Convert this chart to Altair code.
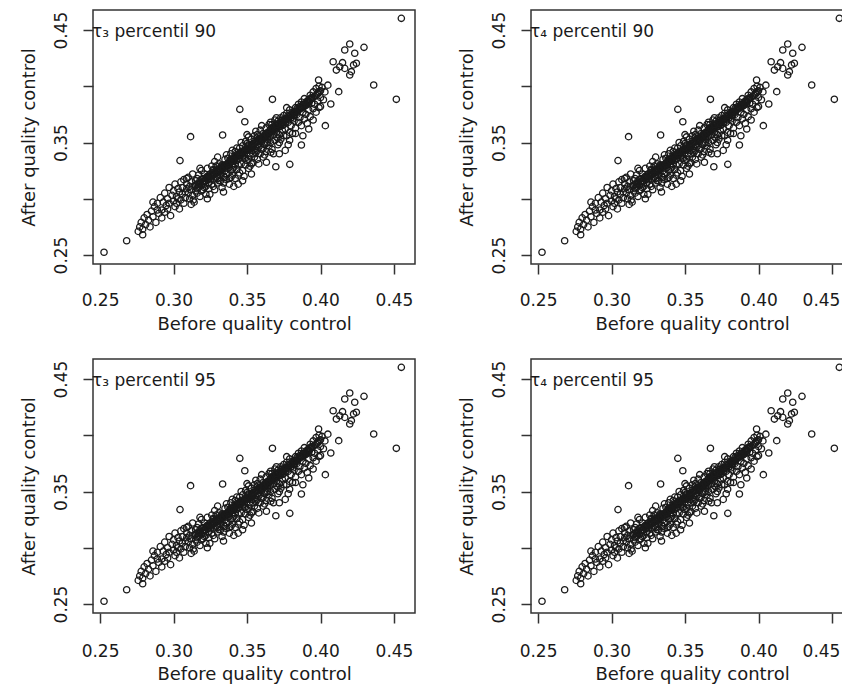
import altair as alt
import pandas as pd

# ---- data (same cloud in all four panels) ----
band_before = (
    [0.276, 0.277, 0.278, 0.279, 0.280, 0.281, 0.282, 0.283, 0.284, 0.285, 0.279]
    + [0.286, 0.287, 0.288, 0.289, 0.290, 0.291, 0.292, 0.292, 0.293, 0.294, 0.294, 0.295, 0.289, 0.286]
    + [0.296, 0.296, 0.297, 0.297, 0.298, 0.299, 0.300, 0.300, 0.301, 0.301, 0.302, 0.302, 0.303, 0.303, 0.304, 0.304, 0.305, 0.305]
    + [0.306, 0.306, 0.307, 0.307, 0.308, 0.308, 0.309, 0.309, 0.310, 0.310, 0.311, 0.311, 0.312, 0.312, 0.313, 0.313, 0.314, 0.314, 0.315, 0.315, 0.309, 0.312]
    + [0.316, 0.316, 0.317, 0.317, 0.318, 0.318, 0.319, 0.319, 0.320, 0.320, 0.321, 0.321, 0.322, 0.322, 0.323, 0.323, 0.324, 0.324, 0.325, 0.325,
       0.318, 0.320, 0.322, 0.324, 0.316, 0.323, 0.319, 0.321]
    + [0.326, 0.326, 0.327, 0.327, 0.328, 0.328, 0.329, 0.329, 0.330, 0.330, 0.331, 0.331, 0.332, 0.332, 0.333, 0.333, 0.334, 0.334, 0.335, 0.335,
       0.326, 0.328, 0.330, 0.332, 0.334, 0.327, 0.329, 0.331, 0.333, 0.335, 0.330, 0.334]
    + [0.336, 0.336, 0.337, 0.337, 0.338, 0.338, 0.339, 0.339, 0.340, 0.340, 0.341, 0.341, 0.342, 0.342, 0.343, 0.343, 0.344, 0.344, 0.345, 0.345,
       0.336, 0.338, 0.340, 0.342, 0.344, 0.337, 0.339, 0.341, 0.343, 0.345, 0.340, 0.342, 0.338, 0.344, 0.336, 0.341]
    + [0.346, 0.346, 0.347, 0.347, 0.348, 0.348, 0.349, 0.349, 0.350, 0.350, 0.351, 0.351, 0.352, 0.352, 0.353, 0.353, 0.354, 0.354, 0.355, 0.355,
       0.346, 0.348, 0.350, 0.352, 0.354, 0.347, 0.349, 0.351, 0.353, 0.355, 0.350, 0.347, 0.353, 0.349, 0.351, 0.354]
    + [0.356, 0.356, 0.357, 0.357, 0.358, 0.358, 0.359, 0.359, 0.360, 0.360, 0.361, 0.361, 0.362, 0.362, 0.363, 0.363, 0.364, 0.364, 0.365, 0.365,
       0.356, 0.358, 0.360, 0.362, 0.364, 0.357, 0.359, 0.361, 0.363, 0.365, 0.357, 0.363]
    + [0.366, 0.366, 0.367, 0.367, 0.368, 0.368, 0.369, 0.369, 0.370, 0.370, 0.371, 0.371, 0.372, 0.372, 0.373, 0.373, 0.374, 0.374, 0.375, 0.375,
       0.366, 0.368, 0.370, 0.372, 0.374, 0.367, 0.369, 0.371, 0.373, 0.375]
    + [0.376, 0.376, 0.377, 0.377, 0.378, 0.378, 0.379, 0.379, 0.380, 0.380, 0.381, 0.381, 0.382, 0.382, 0.383, 0.383, 0.384, 0.384, 0.385, 0.385,
       0.377, 0.379, 0.381, 0.383]
    + [0.386, 0.386, 0.387, 0.387, 0.388, 0.388, 0.389, 0.389, 0.390, 0.390, 0.391, 0.391, 0.392, 0.392, 0.393, 0.393, 0.394, 0.394, 0.395, 0.395]
    + [0.396, 0.396, 0.397, 0.397, 0.398, 0.398, 0.399, 0.399, 0.400, 0.400]
)
band_after = (
    [0.271, 0.275, 0.279, 0.273, 0.283, 0.277, 0.286, 0.281, 0.275, 0.289, 0.268]
    + [0.284, 0.293, 0.279, 0.296, 0.287, 0.301, 0.290, 0.283, 0.297, 0.305, 0.288, 0.294, 0.290, 0.297]
    + [0.300, 0.291, 0.310, 0.296, 0.285, 0.303, 0.298, 0.307, 0.293, 0.313, 0.302, 0.296, 0.309, 0.300, 0.291, 0.306, 0.315, 0.299]
    + [0.304, 0.310, 0.296, 0.317, 0.306, 0.301, 0.313, 0.309, 0.305, 0.319, 0.300, 0.311, 0.308, 0.315, 0.303, 0.322, 0.311, 0.297, 0.307, 0.316, 0.318, 0.295]
    + [0.313, 0.305, 0.321, 0.310, 0.316, 0.302, 0.312, 0.325, 0.318, 0.308, 0.315, 0.322, 0.311, 0.304, 0.319, 0.327, 0.314, 0.309, 0.322, 0.317,
       0.327, 0.313, 0.316, 0.320, 0.318, 0.300, 0.307, 0.310]
    + [0.320, 0.313, 0.326, 0.317, 0.322, 0.308, 0.329, 0.319, 0.324, 0.314, 0.321, 0.331, 0.326, 0.316, 0.323, 0.310, 0.329, 0.320, 0.335, 0.325,
       0.329, 0.333, 0.318, 0.321, 0.314, 0.311, 0.324, 0.316, 0.330, 0.319, 0.337, 0.306]
    + [0.330, 0.322, 0.336, 0.327, 0.318, 0.333, 0.325, 0.340, 0.331, 0.321, 0.337, 0.328, 0.342, 0.318, 0.334, 0.326, 0.339, 0.330, 0.345, 0.323,
       0.339, 0.313, 0.343, 0.331, 0.321, 0.331, 0.319, 0.334, 0.345, 0.336, 0.326, 0.337, 0.328, 0.313, 0.317, 0.311]
    + [0.340, 0.331, 0.347, 0.325, 0.336, 0.343, 0.330, 0.351, 0.341, 0.334, 0.348, 0.327, 0.345, 0.338, 0.353, 0.331, 0.343, 0.349, 0.337, 0.356,
       0.350, 0.320, 0.357, 0.329, 0.340, 0.338, 0.344, 0.335, 0.347, 0.344, 0.349, 0.316, 0.322, 0.336, 0.355, 0.332]
    + [0.350, 0.341, 0.357, 0.335, 0.346, 0.353, 0.340, 0.361, 0.351, 0.344, 0.358, 0.337, 0.355, 0.348, 0.363, 0.342, 0.353, 0.359, 0.347, 0.366,
       0.360, 0.331, 0.365, 0.339, 0.350, 0.348, 0.354, 0.345, 0.356, 0.355, 0.343, 0.349]
    + [0.362, 0.350, 0.366, 0.344, 0.357, 0.364, 0.352, 0.370, 0.359, 0.355, 0.369, 0.348, 0.364, 0.357, 0.372, 0.353, 0.365, 0.370, 0.356, 0.374,
       0.368, 0.340, 0.372, 0.350, 0.361, 0.360, 0.363, 0.354, 0.367, 0.366]
    + [0.371, 0.362, 0.376, 0.356, 0.368, 0.374, 0.359, 0.379, 0.372, 0.365, 0.377, 0.358, 0.374, 0.369, 0.381, 0.363, 0.375, 0.380, 0.368, 0.384,
       0.381, 0.352, 0.371, 0.377]
    + [0.382, 0.372, 0.386, 0.365, 0.377, 0.384, 0.371, 0.389, 0.383, 0.375, 0.387, 0.367, 0.386, 0.379, 0.392, 0.373, 0.385, 0.390, 0.380, 0.395]
    + [0.391, 0.384, 0.398, 0.377, 0.394, 0.387, 0.400, 0.381, 0.396, 0.390]
)
# the solid black core of the band
core_before = [
    0.315, 0.317, 0.319, 0.321, 0.323, 0.325, 0.327, 0.329, 0.331, 0.333,
    0.335, 0.337, 0.339, 0.341, 0.343, 0.345, 0.347, 0.349, 0.351, 0.353,
    0.355, 0.357, 0.359, 0.361, 0.363, 0.365, 0.367, 0.369, 0.371, 0.373,
    0.375, 0.377, 0.379, 0.381, 0.383, 0.385, 0.387, 0.389, 0.391, 0.393,
    0.316, 0.320, 0.324, 0.328, 0.332, 0.336, 0.340, 0.344, 0.348, 0.352,
    0.356, 0.360, 0.364, 0.368, 0.372, 0.376, 0.380, 0.384, 0.388, 0.392,
    0.318, 0.326, 0.334, 0.342, 0.350, 0.358, 0.366, 0.374, 0.382, 0.390,
    0.322, 0.330, 0.338, 0.346, 0.354, 0.362, 0.370, 0.378, 0.386, 0.394,
    0.326, 0.329, 0.332, 0.335, 0.338, 0.341, 0.344, 0.347, 0.350, 0.353,
    0.356, 0.359, 0.362, 0.365, 0.368, 0.371, 0.374, 0.377, 0.380, 0.383,
    0.386, 0.389, 0.392, 0.395, 0.398, 0.327, 0.333, 0.339, 0.345, 0.351,
    0.357, 0.363, 0.369, 0.375, 0.381, 0.387, 0.393, 0.399, 0.331, 0.343,
    0.355, 0.367, 0.379, 0.391, 0.337, 0.349, 0.361, 0.373, 0.385, 0.397,
    0.340, 0.352, 0.364, 0.376, 0.388, 0.334, 0.346, 0.358, 0.370, 0.382,
]
core_after = [
    0.312, 0.313, 0.317, 0.316, 0.320, 0.320, 0.323, 0.325, 0.326, 0.327,
    0.330, 0.331, 0.334, 0.335, 0.338, 0.339, 0.341, 0.343, 0.345, 0.346,
    0.349, 0.351, 0.352, 0.355, 0.357, 0.358, 0.361, 0.362, 0.365, 0.366,
    0.369, 0.371, 0.373, 0.375, 0.377, 0.379, 0.381, 0.384, 0.386, 0.388,
    0.309, 0.315, 0.318, 0.322, 0.325, 0.329, 0.333, 0.336, 0.340, 0.344,
    0.348, 0.352, 0.356, 0.361, 0.364, 0.368, 0.372, 0.377, 0.381, 0.385,
    0.314, 0.321, 0.328, 0.336, 0.343, 0.351, 0.359, 0.367, 0.375, 0.383,
    0.318, 0.326, 0.332, 0.339, 0.347, 0.355, 0.363, 0.371, 0.380, 0.389,
    0.322, 0.324, 0.328, 0.330, 0.333, 0.336, 0.338, 0.342, 0.344, 0.348,
    0.350, 0.353, 0.356, 0.359, 0.362, 0.366, 0.368, 0.371, 0.374, 0.378,
    0.380, 0.383, 0.387, 0.390, 0.393, 0.325, 0.329, 0.335, 0.340, 0.347,
    0.354, 0.358, 0.364, 0.370, 0.376, 0.382, 0.389, 0.395, 0.324, 0.339,
    0.351, 0.363, 0.374, 0.386, 0.330, 0.343, 0.355, 0.367, 0.379, 0.392,
    0.334, 0.345, 0.357, 0.370, 0.383, 0.327, 0.342, 0.353, 0.366, 0.377,
]
outlier_before = [
    0.2527, 0.2681, 0.4550, 0.4516, 0.4362, 0.4296, 0.4033, 0.4070, 0.4124, 0.3870, 0.3791, 0.3696,
    0.3632, 0.3662, 0.3116, 0.3044, 0.3451, 0.3334, 0.3485, 0.3673, 0.3134, 0.3247, 0.3987,
    0.4199, 0.4165, 0.4233, 0.4086, 0.4131, 0.4199, 0.4244, 0.4165, 0.4108, 0.4210, 0.4225, 0.4150,
    0.4010, 0.4030, 0.4050, 0.4020, 0.4000, 0.3950, 0.3920, 0.3880, 0.3830, 0.3780, 0.3760, 0.3720,
]
outlier_after = [
    0.2524, 0.2627, 0.4604, 0.3884, 0.4011, 0.4346, 0.3650, 0.3842, 0.3952, 0.3478, 0.3306, 0.3285,
    0.3324, 0.3413, 0.3552, 0.3339, 0.3795, 0.3567, 0.3685, 0.3884, 0.2989, 0.3039, 0.4056,
    0.4376, 0.4322, 0.4293, 0.4218, 0.4174, 0.4100, 0.4204, 0.4159, 0.4144, 0.4130, 0.4190, 0.4210,
    0.3990, 0.3950, 0.4010, 0.3880, 0.3820, 0.3700, 0.3620, 0.3560, 0.3580, 0.3480, 0.3430, 0.3400,
]

panel_labels = ["τ₃ percentil 90", "τ₄ percentil 90", "τ₃ percentil 95", "τ₄ percentil 95"]
tick_values = [0.25, 0.30, 0.35, 0.40, 0.45]
x_domain = [0.2452, 0.4643]
y_domain = [0.2420, 0.4678]
x_title = "Before quality control"
y_title = "After quality control"

df = pd.DataFrame({
    "before": band_before + core_before + outlier_before,
    "after": band_after + core_after + outlier_after,
})

FONT = "DejaVu Sans"
INK = "#1a1a1a"
W, H = 322, 254


def panel(label, label_pad, title_y, right_col):
    label_offset = (
        {"condition": {"test": "datum.value > 0.44", "value": -11}, "value": 0}
        if right_col else 0
    )
    x_axis = alt.Axis(
        values=tick_values, format=".2f", grid=False, domain=False,
        tickSize=10, tickWidth=1.5, tickColor="#333333",
        labelFont=FONT, labelFontSize=17, labelColor=INK,
        labelBaseline="middle", labelPadding=label_pad, labelOffset=label_offset,
        labelFlush=False, labelOverlap=False,
        title=x_title, titleFont=FONT, titleFontSize=18, titleFontWeight="normal",
        titleColor=INK, titleBaseline="middle", titleY=title_y, titleX=W / 2,
    )
    y_axis = alt.Axis(
        values=tick_values, format=".2f", grid=False, domain=False,
        tickSize=10, tickWidth=1.5, tickColor="#333333",
        labelFont=FONT, labelFontSize=17, labelColor=INK,
        labelAngle=270, labelAlign="center", labelBaseline="middle", labelPadding=22,
        labelFlush=False, labelOverlap=False,
        labelExpr="abs(datum.value - 0.3) < 0.001 || abs(datum.value - 0.4) < 0.001 ? '' : datum.label",
        title=y_title, titleFont=FONT, titleFontSize=18, titleFontWeight="normal",
        titleColor=INK, titleAngle=270, titleAlign="center", titleBaseline="middle",
        titleX=-64, titleY=H / 2,
    )
    pts = alt.Chart(df).mark_point(
        shape="circle", filled=False, size=40, strokeWidth=1.3, color=INK, opacity=1
    ).encode(
        x=alt.X("before:Q", scale=alt.Scale(domain=x_domain, nice=False, zero=False), axis=x_axis),
        y=alt.Y("after:Q", scale=alt.Scale(domain=y_domain, nice=False, zero=False), axis=y_axis),
    )
    txt = alt.Chart(pd.DataFrame({"label": [label]})).mark_text(
        align="left", baseline="middle", font=FONT, fontSize=17, color=INK
    ).encode(x=alt.value(-1), y=alt.value(22), text="label:N")
    return alt.layer(pts, txt).properties(width=W, height=H)


chart = alt.concat(
    panel(panel_labels[0], 26, 60, False),
    panel(panel_labels[1], 26, 60, True),
    panel(panel_labels[2], 28, 61, False),
    panel(panel_labels[3], 28, 61, True),
    columns=2,
    spacing={"row": 95, "column": 116},
    bounds="flush",
).properties(
    autosize=alt.AutoSizeParams(type="none"),
    padding={"left": 85, "top": 2, "right": 749, "bottom": 675},
    background="white",
).configure_view(
    stroke="#333333", strokeWidth=1.5
)

chart.save("out.html", embed_options={"renderer": "svg", "actions": False})
